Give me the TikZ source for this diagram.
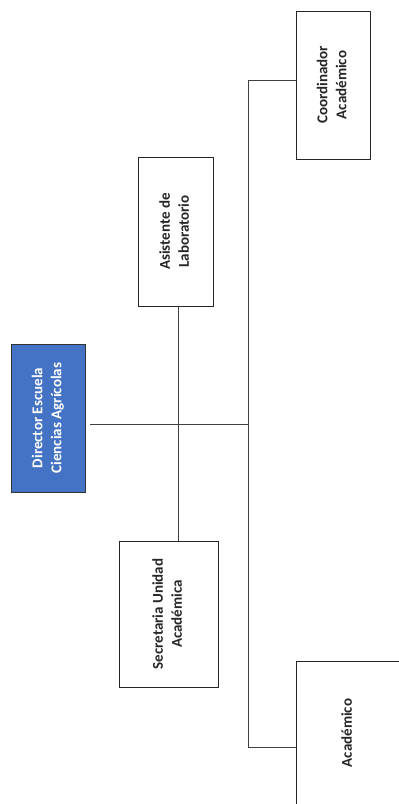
\documentclass[tikz,border=0pt]{standalone}
\usepackage{fontspec}
\setmainfont{Carlito}
\begin{document}
\begin{tikzpicture}[x=1pt,y=-1pt,
  box/.style={draw=black!85, line width=0.9pt, fill=white, inner sep=0pt, font=\fontsize{15}{19}\selectfont\bfseries, text=black!85},
  dirbox/.style={box, fill=blue!55!cyan!45!black, fill=dirblue, draw=black!80, text=white},
  conn/.style={draw=black!75, line width=0.9pt}]
\definecolor{dirblue}{HTML}{4472C4}
\useasboundingbox[fill=white] (0,0) rectangle (399,804);
\newcommand{\rtext}[1]{\rotatebox{90}{\begin{tabular}{@{}c@{}}#1\end{tabular}}}
\node[dirbox, minimum width=74pt, minimum height=148pt] (dir) at (48,418) {\rtext{Director Escuela\\Ciencias Agrícolas}};
\node[box, minimum width=75pt, minimum height=149pt] (asis) at (175.5,231.5) {\rtext{Asistente de\\Laboratorio}};
\node[box, minimum width=99pt, minimum height=146pt] (secr) at (168.5,614) {\rtext{Secretaria Unidad\\Académica}};
\node[box, minimum width=74pt, minimum height=148pt] (coord) at (333,85) {\rtext{Coordinador\\Académico}};
\node[box, minimum width=104pt, minimum height=144pt] (acad) at (348,733) {\rtext{Académico}};
\coordinate (jtop) at (248,80);
\coordinate (jmid) at (248,424);
\coordinate (jbot) at (248,747);
\coordinate (jsec) at (178,424);
\draw[conn] (coord.west |- jtop) -- (jtop) -- (jbot) -- (acad.west |- jbot);
\draw[conn] ([xshift=5pt]dir.east |- jmid) -- (jmid);
\draw[conn] (asis.south -| jsec) -- (secr.north -| jsec);
\end{tikzpicture}
\end{document}
